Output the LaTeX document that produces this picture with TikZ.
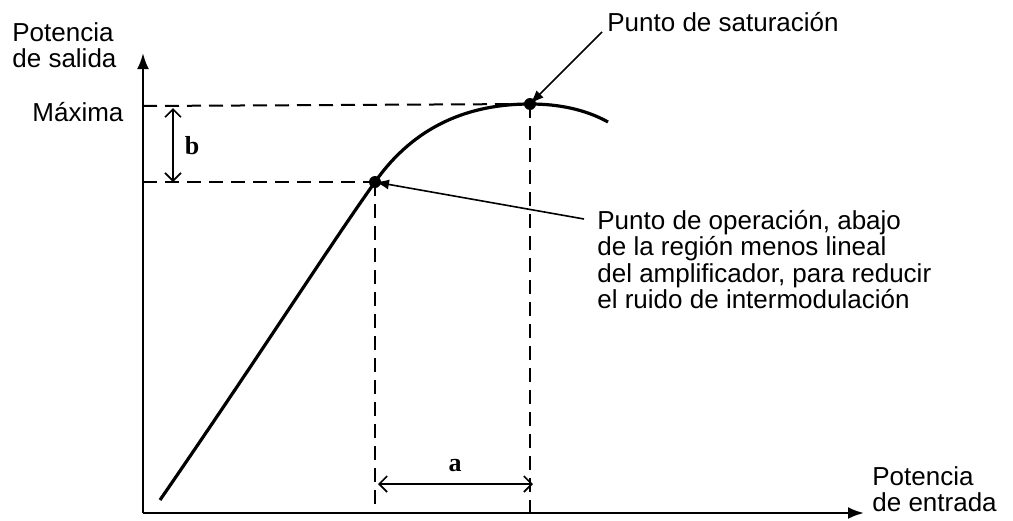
\documentclass[tikz,border=0pt]{standalone}
\usepackage{fontspec}
\usepackage{tikz}
\usepackage{color}
\setmainfont{Liberation Sans}
\newfontfamily\letterfont{Liberation Serif}
\usetikzlibrary{arrows,arrows.meta}

\tikzset{
	lbl/.style={inner sep=0pt, font=\fontsize{13}{13.2}\selectfont, align=left},
	axis/.style={line width=1.2pt, -{Latex[length=8pt,width=6pt]}},
	guide/.style={line width=1pt, dash pattern=on 7pt off 4pt},
	dimarrow/.style={line width=0.8pt, {Straight Barb[length=4pt,width=8pt]}-{Straight Barb[length=4pt,width=8pt]}},
	pointer/.style={line width=0.8pt, -{Latex[length=7pt,width=5pt]}}
}

\begin{document}
\begin{tikzpicture}[x=0.5pt, y=-0.5pt]
		\useasboundingbox (0,0) rectangle (1013,520);

		% ejes
		\coordinate (O) at (143,513);
		\coordinate (Ytop) at (143,53);
		\coordinate (Xend) at (864,513);
		\draw[axis] (O)--(Ytop);
		\draw[axis] (O)--(Xend);

		% puntos de la curva
		\coordinate (Start) at (160,500);
		\coordinate (P) at (375,182);
		\coordinate (S) at (530,104);
		\coordinate (End) at (608,122);

		\draw[line width=1.6pt] (Start) .. controls (260,355) and (330,245) .. (P)
			.. controls (415,125) and (470,104) .. (S)
			.. controls (565,104) and (590,112) .. (End);

		% lineas de referencia
		\draw[guide] (143,106)--(S);
		\draw[guide] (143,182)--(P);
		\draw[guide] (P)--(375,513);
		\draw[guide] (S)--(530,513);

		\fill (P) circle (6);
		\fill (S) circle (6);

		% cotas a y b
		\coordinate (B1) at (173,108);
		\coordinate (B2) at (173,182);
		\draw[dimarrow] (B1)--(B2);
		\node[lbl] (blabel) at (192,146) {\letterfont\bfseries b};

		\coordinate (A1) at (378,484);
		\coordinate (A2) at (533,484);
		\draw[dimarrow] (A1)--(A2);
		\node[lbl] (alabel) at (455,466) {\letterfont\bfseries a};

		% textos
		\node[lbl, anchor=north west] (ylabel) at (12,22) {Potencia\\de salida};
		\node[lbl, anchor=west] (maxlabel) at (32,112) {Máxima};
		\node[lbl, anchor=north west] (xlabel) at (872,466) {Potencia\\de entrada};
		\node[lbl, anchor=west] (satlabel) at (607,22) {Punto de saturación};
		\node[lbl, anchor=north west] (oplabel) at (597,210) {Punto de operación, abajo\\de la región menos lineal\\del amplificador, para reducir\\el ruido de intermodulación};

		\coordinate (satstart) at (602,32);
		\coordinate (opstart) at (584,219);
		\draw[pointer] (satstart)--(S);
		\draw[pointer] (opstart)--(P);

	\end{tikzpicture}
\end{document}
